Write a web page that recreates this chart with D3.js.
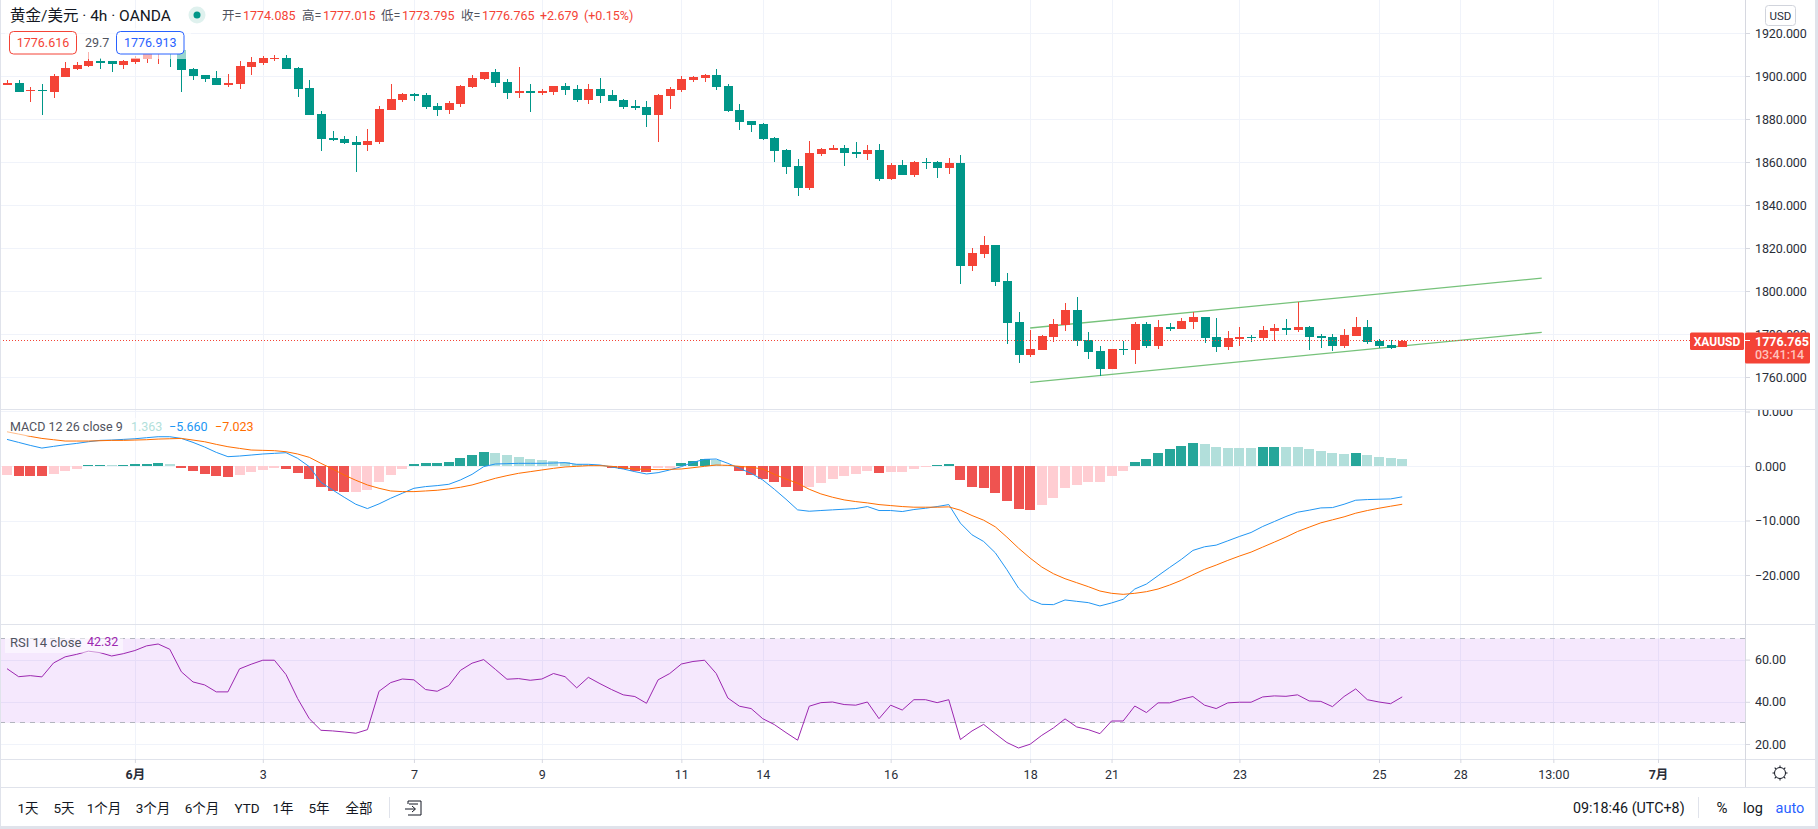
<!DOCTYPE html>
<html>
<head>
<meta charset="utf-8">
<script src="https://cdn.jsdelivr.net/npm/d3@7"></script>
<style>
  html, body { margin: 0; padding: 0; background: #fff; overflow: hidden; }
  svg { display: block; }
  text { font-family: Roboto, "Noto Sans CJK SC", sans-serif; font-size: 12.5px; fill: #131722; }
  .domain { display: none; }
  .grid line { stroke: #f0f3fa; }
  .axis line { stroke: #d6d8e0; }
</style>
</head>
<body>
<svg width="1818" height="829"></svg>
<script>
// candles, one entry per 4h bar
const opens = [1896.3,1896.9,1892.9,1893.6,1892.7,1899.7,1903.4,1904.8,1907.1,1906.8,1905.3,1906.7,1908.1,1910.7,1913.0,1912.2,1903.4,1900.6,1899.2,1896.0,1896.4,1904.3,1906.2,1908.1,1908.5,1903.9,1894.6,1882.5,1871.3,1870.9,1869.5,1868.1,1869.5,1884.3,1889.0,1891.8,1891.3,1886.2,1884.3,1887.1,1894.9,1898.6,1902.0,1897.4,1892.2,1893.2,1892.2,1892.7,1895.5,1894.1,1889.0,1894.1,1891.3,1889.0,1886.2,1885.7,1882.0,1890.9,1893.6,1898.3,1899.2,1900.6,1895.5,1884.3,1879.2,1877.8,1871.3,1865.7,1858.3,1848.1,1863.9,1865.7,1866.7,1864.8,1863.9,1865.7,1852.3,1858.8,1854.1,1860.2,1860.2,1857.4,1859.7,1811.8,1817.4,1821.6,1804.8,1785.8,1770.4,1772.7,1778.8,1784.4,1791.3,1777.4,1772.3,1763.9,1773.2,1772.7,1784.8,1774.6,1783.4,1782.5,1785.8,1788.1,1778.8,1774.1,1777.8,1778.8,1778.3,1781.6,1782.9,1782.0,1783.4,1779.2,1778.8,1774.6,1779.2,1783.4,1776.9,1775.0,1774.085];
const closes = [1896.7,1892.7,1893.6,1892.9,1900.2,1903.9,1905.3,1907.1,1906.2,1905.4,1907.1,1908.4,1910.7,1913.0,1911.0,1902.9,1900.2,1898.8,1896.0,1896.9,1904.8,1906.7,1908.5,1908.5,1903.4,1894.1,1882.0,1870.9,1870.4,1869.0,1868.1,1869.9,1884.8,1889.5,1891.8,1890.9,1885.7,1884.3,1887.6,1895.5,1899.2,1902.0,1896.9,1892.2,1893.2,1892.2,1893.2,1895.5,1893.6,1889.0,1894.1,1890.9,1888.5,1885.7,1885.3,1882.0,1891.3,1894.1,1898.8,1899.7,1900.6,1895.0,1883.9,1878.8,1877.4,1870.9,1865.3,1857.8,1848.1,1864.3,1866.2,1866.7,1864.3,1863.9,1865.7,1852.3,1858.8,1854.1,1860.2,1859.7,1857.4,1859.7,1811.8,1817.9,1821.6,1804.4,1785.3,1770.4,1773.2,1779.3,1784.8,1791.3,1776.9,1771.8,1763.9,1773.2,1772.7,1784.8,1774.6,1783.4,1782.5,1786.2,1788.1,1778.3,1774.1,1778.3,1778.8,1778.3,1782.0,1782.9,1782.0,1783.4,1778.8,1778.3,1774.6,1779.7,1783.4,1776.4,1774.6,1773.7,1776.765];
const highs = [1898.3,1898.3,1894.9,1896.4,1901.1,1906.4,1906.4,1911.0,1908.4,1907.1,1907.6,1909.5,1912.2,1914.6,1914.6,1913.8,1903.9,1900.6,1902.5,1901.1,1907.1,1909.0,1909.5,1909.9,1909.9,1904.3,1898.3,1883.9,1874.6,1872.2,1872.2,1875.5,1886.2,1896.4,1892.2,1892.2,1892.2,1887.6,1888.5,1896.0,1900.6,1902.0,1903.4,1898.8,1904.3,1896.4,1894.1,1895.5,1896.9,1896.0,1896.4,1899.2,1893.6,1889.5,1889.0,1888.5,1891.8,1895.0,1900.2,1900.2,1901.1,1903.4,1896.4,1887.1,1879.2,1878.3,1871.8,1866.2,1861.6,1869.9,1866.7,1868.1,1868.1,1869.5,1868.1,1868.5,1859.7,1861.1,1860.6,1862.0,1860.6,1862.0,1863.4,1820.2,1825.4,1821.6,1808.5,1790.4,1782.0,1779.7,1787.2,1794.6,1797.4,1781.1,1774.6,1773.2,1776.9,1785.8,1785.8,1786.7,1785.3,1787.6,1790.4,1788.1,1787.6,1781.6,1783.4,1779.7,1783.9,1784.8,1787.1,1795.0,1783.9,1780.2,1780.2,1782.5,1788.1,1786.7,1777.8,1777.4,1777.015];
const lows = [1895.8,1892.4,1887.8,1882.0,1889.9,1899.7,1902.6,1904.3,1903.4,1902.0,1903.4,1905.4,1906.2,1905.4,1904.3,1892.4,1898.3,1897.4,1896.0,1895.0,1894.1,1900.6,1905.3,1907.1,1903.4,1890.4,1882.0,1865.3,1869.9,1868.5,1855.5,1865.3,1868.5,1884.3,1888.1,1888.5,1884.8,1881.6,1882.5,1885.7,1894.6,1898.3,1895.0,1889.5,1889.9,1883.4,1891.3,1891.3,1891.3,1888.1,1887.1,1887.6,1888.5,1884.8,1884.3,1876.4,1869.5,1884.8,1892.7,1897.4,1897.4,1893.6,1883.4,1875.0,1874.1,1870.4,1860.2,1854.6,1844.4,1847.1,1863.0,1865.7,1858.3,1862.0,1861.1,1851.3,1851.8,1854.1,1853.2,1856.9,1852.7,1854.6,1803.4,1809.5,1815.5,1802.5,1775.5,1766.7,1769.5,1772.7,1776.5,1781.6,1774.6,1768.6,1760.6,1763.9,1770.4,1766.2,1773.7,1773.2,1781.6,1782.5,1782.5,1776.0,1771.8,1772.7,1774.6,1776.4,1777.4,1776.9,1779.7,1781.1,1772.7,1773.7,1772.3,1773.7,1779.2,1775.5,1773.7,1773.2,1773.795];

// MACD 12 26 close 9
const macdHist = [-1.65,-1.83,-1.85,-1.87,-1.46,-0.9,-0.55,0.1,0.2,0.18,0.25,0.4,0.42,0.55,0.4,-0.37,-0.9,-1.46,-1.83,-2.0,-1.65,-1.1,-0.73,-0.37,-0.55,-1.28,-2.4,-3.84,-4.57,-4.8,-4.76,-4.4,-2.93,-1.65,-0.55,0.37,0.55,0.57,0.73,1.46,2.0,2.56,2.38,2.0,1.65,1.28,1.1,0.9,0.73,0.37,0.2,0.1,-0.37,-0.55,-0.9,-1.1,-0.37,-0.37,0.55,0.9,1.28,1.1,0.15,-0.9,-1.65,-2.4,-2.93,-3.84,-4.57,-3.84,-3.1,-2.4,-1.83,-1.46,-0.9,-1.28,-1.1,-1.1,-0.55,-0.2,0.2,0.37,-2.56,-3.84,-4.0,-4.94,-6.4,-7.87,-8.05,-7.13,-5.85,-4.0,-3.48,-2.93,-2.93,-1.83,-0.9,0.73,1.28,2.38,3.1,3.66,4.2,4.0,3.48,3.3,3.3,3.3,3.48,3.5,3.48,3.45,3.1,2.74,2.38,2.2,2.38,2.0,1.65,1.46,1.363];
const macdLine = [4.88,4.33,3.78,3.29,3.6,3.9,4.15,4.45,4.7,4.76,4.88,5.0,5.19,5.37,5.37,5.06,4.33,3.48,2.5,1.71,1.83,2.01,2.2,2.32,2.44,1.4,-0.12,-2.99,-4.39,-5.73,-7.02,-7.81,-6.95,-5.92,-5.0,-4.09,-3.78,-3.6,-3.36,-2.56,-1.53,-0.12,0.37,0.43,0.49,0.49,0.49,0.55,0.61,0.31,0.31,0.18,-0.18,-0.55,-1.04,-1.46,-1.22,-0.73,-0.12,0.67,1.22,1.28,0.49,-0.43,-1.34,-2.56,-4.27,-6.1,-8.05,-8.3,-8.17,-8.05,-7.93,-7.81,-7.44,-8.17,-8.17,-8.36,-7.99,-7.75,-7.44,-7.08,-10.49,-12.63,-13.85,-15.92,-19.03,-22.39,-24.52,-25.38,-25.44,-24.58,-24.83,-25.07,-25.68,-25.13,-24.46,-22.57,-21.66,-20.13,-18.61,-17.14,-15.49,-14.82,-14.52,-13.73,-12.93,-12.2,-11.1,-10.19,-9.27,-8.48,-8.11,-7.69,-7.63,-7.02,-6.28,-6.16,-6.1,-6.04,-5.66];
const signalLine = [6.28,5.86,5.43,5.06,4.82,4.58,4.58,4.58,4.64,4.7,4.7,4.76,4.82,4.94,5.0,5.06,4.76,4.45,3.97,3.54,3.23,2.93,2.87,2.81,2.62,2.2,1.59,0.49,-0.55,-1.65,-2.62,-3.48,-4.09,-4.58,-4.7,-4.7,-4.58,-4.45,-4.21,-3.9,-3.48,-2.87,-2.26,-1.77,-1.34,-1.04,-0.73,-0.43,-0.18,-0.06,0.06,0.06,-0.06,-0.31,-0.55,-0.61,-0.67,-0.61,-0.55,-0.31,-0.06,0.18,0.12,-0.06,-0.24,-0.55,-1.53,-2.38,-3.17,-4.27,-5.12,-5.73,-6.22,-6.53,-6.77,-7.08,-7.26,-7.44,-7.56,-7.56,-7.56,-7.5,-8.11,-9.09,-9.94,-11.16,-13.05,-15.07,-16.9,-18.54,-19.76,-20.68,-21.41,-22.14,-22.94,-23.36,-23.55,-23.36,-23.06,-22.57,-21.84,-20.98,-19.95,-18.97,-18.18,-17.32,-16.53,-15.8,-14.88,-13.97,-13.05,-12.02,-11.22,-10.43,-9.88,-9.33,-8.66,-8.17,-7.75,-7.38,-7.023];

// RSI 14 close
const rsiLine = [55.7,51.9,52.4,51.8,58.4,61.3,62.5,64.0,63.3,61.7,62.8,64.3,66.5,67.4,64.9,54.2,49.4,48.0,44.7,44.7,55.6,57.8,59.7,59.7,52.9,41.5,32.0,26.5,26.2,25.7,25.1,26.8,45.0,49.1,50.8,50.4,45.8,45.0,47.7,54.9,58.3,60.0,55.4,50.7,51.0,50.2,50.8,53.4,51.9,46.6,51.6,48.6,45.8,43.3,42.5,39.3,50.4,53.4,57.9,59.1,59.7,53.4,41.8,37.9,36.8,32.0,29.2,25.4,21.8,37.9,39.6,39.9,38.7,38.4,39.9,32.0,38.4,36.1,41.0,41.0,39.6,41.0,22.1,26.2,29.3,24.9,20.7,18.1,19.9,24.1,27.6,31.9,28.1,26.8,24.9,30.9,30.9,38.0,34.9,39.5,39.5,41.2,42.5,38.4,36.8,39.5,39.8,39.8,42.3,42.8,42.6,43.3,40.4,40.2,37.7,42.5,46.1,41.0,39.9,39.1,42.32];

// the two channel lines drawn by hand on the chart: [bar, price]
const channelUpper = [[88, 1782.8], [132, 1806.0]];
const channelLower = [[88, 1757.5], [132, 1780.8]];

// axis ticks
const priceTicks = [1760, 1780, 1800, 1820, 1840, 1860, 1880, 1900, 1920];
const macdTicks = [-20, -10, 0, 10];
const rsiTicks = [20, 40, 60];
const rsiBands = [70, 30];
const timeTicks = [11, 22, 35, 46, 58, 65, 76, 88, 95, 106, 118, 125, 133, 142];
const timeLabels = ['6月', '3', '7', '9', '11', '14', '16', '18', '21', '23', '25', '28', '13:00', '7月'];
const lastPrice = 1776.765;

// bottom toolbar
const rangeButtons = ['1天', '5天', '1个月', '3个月', '6个月', 'YTD', '1年', '5年', '全部'];
const rangeCentres = [28, 64, 104, 153, 202, 247, 283, 319, 359];

(function () {
  const svg = d3.select('svg');
  const red = '#f44336';
  const teal = '#009688';
  const line = '#e0e3eb';
  const axisX = 1745;

  const bars = d3.range(opens.length);
  const x = d3.scaleLinear().domain([0, 142]).range([7, 1658]);
  const yPrice = d3.scaleLinear().domain([1760, 1920]).range([377, 33]);
  const yMacd = d3.scaleLinear().domain([-20, 0]).range([575, 466]);
  const yRsi = d3.scaleLinear().domain([20, 70]).range([744, 638.5]);
  // candle centre on a whole pixel, wick runs through the middle of it
  const xPx = i => Math.round(x(i));

  const label = function (txt, px, py, fill, anchor, size, weight) {
    return svg.append('text')
      .attr('x', px).attr('y', py)
      .attr('dy', '0.35em')
      .attr('text-anchor', anchor || 'start')
      .style('fill', fill || '#131722')
      .style('font-size', (size || 12.5) + 'px')
      .style('font-weight', weight || 400)
      .text(txt);
  };

  const hline = (y, x1, x2, color) => svg.append('line')
    .attr('x1', x1).attr('x2', x2).attr('y1', y).attr('y2', y)
    .attr('stroke', color || line).attr('shape-rendering', 'crispEdges');

  // grids
  const grid = svg.append('g').attr('class', 'grid').attr('shape-rendering', 'crispEdges');
  grid.append('g').attr('transform', `translate(0,759)`)
    .call(d3.axisBottom(x).tickValues(timeTicks).tickSize(-759).tickFormat(''));
  const gridPane = (scale, ticks) => grid.append('g').attr('transform', `translate(${axisX},0)`)
    .call(d3.axisRight(scale).tickValues(ticks).tickSize(-axisX).tickFormat(''));
  gridPane(yPrice, priceTicks);
  gridPane(yMacd, [-20, -10, 0]);
  gridPane(yRsi, rsiTicks);

  // RSI band goes over the grid so the lines still show through it
  svg.append('rect')
    .attr('x', 0).attr('width', axisX)
    .attr('y', yRsi(70)).attr('height', yRsi(30) - yRsi(70))
    .attr('fill', 'rgba(145,5,235,0.09)');
  svg.selectAll('.rsi-band').data(rsiBands).enter().append('line')
    .attr('class', 'rsi-band')
    .attr('x1', 0).attr('x2', axisX)
    .attr('y1', d => yRsi(d)).attr('y2', d => yRsi(d))
    .attr('stroke', '#b2b5be').attr('stroke-dasharray', '5 5')
    .attr('shape-rendering', 'crispEdges');

  // channel lines sit under the candles
  const channel = d3.line().x(d => x(d[0])).y(d => yPrice(d[1]));
  svg.selectAll('.channel').data([channelUpper, channelLower]).enter().append('path')
    .attr('class', 'channel')
    .attr('d', channel)
    .attr('fill', 'none')
    .attr('stroke', '#76c27a')
    .attr('stroke-width', 1.3);

  // candles
  const candleColor = i => (closes[i] >= opens[i] ? red : teal);
  svg.append('g').attr('shape-rendering', 'crispEdges')
    .selectAll('line').data(bars).enter().append('line')
    .attr('x1', d => xPx(d) + 0.5).attr('x2', d => xPx(d) + 0.5)
    .attr('y1', d => yPrice(highs[d])).attr('y2', d => yPrice(lows[d]))
    .attr('stroke', candleColor)
    .attr('stroke-width', 1);
  svg.append('g').attr('shape-rendering', 'crispEdges')
    .selectAll('rect').data(bars).enter().append('rect')
    .attr('x', d => xPx(d) - 4)
    .attr('width', 9)
    .attr('y', d => yPrice(Math.max(opens[d], closes[d])))
    .attr('height', d => Math.max(1.5, Math.abs(yPrice(opens[d]) - yPrice(closes[d]))))
    .attr('fill', candleColor);

  // last price line
  hline(yPrice(lastPrice), 0, 1690, red)
    .attr('stroke-dasharray', '1 2');

  // MACD histogram, dark while the bar grows away from zero
  const histColor = function (i) {
    const v = macdHist[i];
    const prev = i > 0 ? macdHist[i - 1] : v;
    if (v >= 0) return v > prev ? '#26a69a' : '#b2dfdb';
    return v < prev ? '#ef5350' : '#ffcdd2';
  };
  svg.append('g').attr('shape-rendering', 'crispEdges')
    .selectAll('rect').data(bars).enter().append('rect')
    .attr('x', d => xPx(d) - 5)
    .attr('width', 10)
    .attr('y', d => Math.min(yMacd(0), yMacd(macdHist[d])))
    .attr('height', d => Math.abs(yMacd(macdHist[d]) - yMacd(0)))
    .attr('fill', histColor);

  const macdPath = d3.line().x((d, i) => x(i)).y(d => yMacd(d));
  svg.append('path').attr('d', macdPath(macdLine))
    .attr('fill', 'none').attr('stroke', '#2196f3').attr('stroke-width', 1);
  svg.append('path').attr('d', macdPath(signalLine))
    .attr('fill', 'none').attr('stroke', '#ff6d00').attr('stroke-width', 1);

  // RSI
  const rsiPath = d3.line().x((d, i) => x(i)).y(d => yRsi(d));
  svg.append('path').attr('d', rsiPath(rsiLine))
    .attr('fill', 'none').attr('stroke', '#9c27b0').attr('stroke-width', 1);

  // pane and frame separators
  hline(409.5, 0, 1815);
  hline(411.5, 0, axisX, '#f0f3fa');
  hline(624.5, 0, 1815);
  hline(759.5, 0, 1815);
  hline(787.5, 0, 1815);
  svg.append('line').attr('x1', axisX + 0.5).attr('x2', axisX + 0.5).attr('y1', 0).attr('y2', 787)
    .attr('stroke', '#d6d8e0').attr('shape-rendering', 'crispEdges');

  // price axes
  const fmt3 = d => d3.format('.3f')(d).replace('-', '−');
  const axisG = svg.append('g').attr('class', 'axis');
  const rightAxis = (parent, scale, ticks, format) => parent.append('g')
    .attr('transform', `translate(${axisX},0)`)
    .call(d3.axisRight(scale).tickValues(ticks).tickSize(5).tickPadding(5).tickFormat(format));
  rightAxis(axisG, yPrice, priceTicks, fmt3);
  // top of the MACD axis is cut by the pane edge, clip on an untransformed parent
  svg.append('clipPath').attr('id', 'macd-clip').append('rect')
    .attr('x', axisX).attr('y', 410).attr('width', 80).attr('height', 214);
  rightAxis(axisG.append('g').attr('clip-path', 'url(#macd-clip)'), yMacd, macdTicks, fmt3);
  rightAxis(axisG, yRsi, rsiTicks, d => d3.format('.2f')(d));
  axisG.selectAll('text')
    .style('font-size', '12.5px').style('fill', '#2a2e39').style('letter-spacing', '-0.1px');

  // time axis
  const timeAxis = svg.append('g').attr('class', 'axis').attr('transform', 'translate(0,759)')
    .call(d3.axisBottom(x).tickValues(timeTicks).tickSize(4).tickPadding(7)
      .tickFormat((d, i) => timeLabels[i]));
  timeAxis.selectAll('text')
    .style('font-size', '12.5px')
    .style('fill', '#2a2e39')
    .style('font-weight', (d, i) => (timeLabels[i].includes('月') ? 700 : 400));

  // last price tags
  svg.append('rect').attr('x', 1690).attr('y', 332.5).attr('width', 54).attr('height', 17.5)
    .attr('rx', 1.5).attr('fill', red);
  label('XAUUSD', 1717, 341.5, '#fff', 'middle', 12, 700);
  svg.append('rect').attr('x', axisX).attr('y', 332.5).attr('width', 65).attr('height', 31)
    .attr('rx', 1.5).attr('fill', red);
  hline(yPrice(lastPrice), axisX, axisX + 5, '#fff');
  label('1776.765', 1755, 341.5, '#fff', 'start', 12.5, 700);
  label('03:41:14', 1755, 355, '#ffc2bc', 'start', 12.5, 500);

  // USD button
  svg.append('rect').attr('x', 1765.5).attr('y', 5.5).attr('width', 30).attr('height', 20)
    .attr('rx', 3).attr('fill', '#fff').attr('stroke', '#d1d4dc');
  label('USD', 1780.5, 15.5, '#2a2e39', 'middle', 11.5);

  // legend, white wash over the marks below it
  svg.append('rect').attr('x', 5).attr('y', 28).attr('width', 186).attr('height', 31)
    .attr('fill', '#fff').attr('opacity', 0.6);
  label('黄金/美元 · 4h · OANDA', 10, 15.5, '#131722', 'start', 15.5);
  svg.append('circle').attr('cx', 197).attr('cy', 15).attr('r', 8.5).attr('fill', '#dff1ee');
  svg.append('circle').attr('cx', 197).attr('cy', 15).attr('r', 3.5).attr('fill', teal);
  const ohlc = [
    ['开=', 222, '#50535e'], ['1774.085', 243, red],
    ['高=', 302, '#50535e'], ['1777.015', 323, red],
    ['低=', 381, '#50535e'], ['1773.795', 402, red],
    ['收=', 461, '#50535e'], ['1776.765', 482, red],
    ['+2.679', 540, red], ['(+0.15%)', 584, red]
  ];
  ohlc.forEach(d => label(d[0], d[1], 16, d[2], 'start', 12.5));

  const priceBox = function (txt, bx, bw, color) {
    svg.append('rect').attr('x', bx).attr('y', 31.5).attr('width', bw).attr('height', 22.5)
      .attr('rx', 4).attr('fill', '#fff').attr('stroke', color);
    label(txt, bx + bw / 2, 43, color, 'middle', 12.5);
  };
  priceBox('1776.616', 9.5, 67, red);
  label('29.7', 85, 43, '#50535e', 'start', 12.5);
  priceBox('1776.913', 116.5, 67.5, '#2962ff');

  svg.append('rect').attr('x', 5).attr('y', 418).attr('width', 250).attr('height', 18)
    .attr('fill', '#fff').attr('opacity', 0.55);
  label('MACD 12 26 close 9', 10, 427, '#50535e', 'start', 12.5);
  label('1.363', 131, 427, '#b2dfdb', 'start', 12.5);
  label('−5.660', 169, 427, '#2196f3', 'start', 12.5);
  label('−7.023', 215, 427, '#ff6d00', 'start', 12.5);

  svg.append('rect').attr('x', 5).attr('y', 636).attr('width', 118).attr('height', 17)
    .attr('fill', '#fff').attr('opacity', 0.5);
  label('RSI 14 close', 10, 642, '#50535e', 'start', 13);
  label('42.32', 87, 642, '#9c27b0', 'start', 12.5);

  // gear
  const gear = svg.append('g').attr('transform', 'translate(1780,773)');
  gear.append('circle').attr('r', 5.5).attr('fill', 'none').attr('stroke', '#131722');
  gear.selectAll('line').data(d3.range(0, 360, 45)).enter().append('line')
    .attr('y1', -5.5).attr('y2', -7.5)
    .attr('stroke', '#131722')
    .attr('transform', d => `rotate(${d})`);

  // bottom toolbar
  rangeButtons.forEach((d, i) => label(d, rangeCentres[i], 808, '#131722', 'middle', 13.5));
  svg.append('line').attr('x1', 389.5).attr('x2', 389.5).attr('y1', 797).attr('y2', 818)
    .attr('stroke', line);
  svg.append('path')
    .attr('d', 'M408 804V801H421V815H408M409 804H418M405 809H415M412 806L415.5 809L412 812')
    .attr('fill', 'none').attr('stroke', '#131722');
  label('09:18:46 (UTC+8)', 1573, 808, '#131722', 'start', 14.3);
  svg.append('line').attr('x1', 1698.5).attr('x2', 1698.5).attr('y1', 797).attr('y2', 818)
    .attr('stroke', line);
  label('%', 1722, 808, '#131722', 'middle', 15);
  label('log', 1753, 808, '#131722', 'middle', 14.5);
  label('auto', 1790, 808, '#2962ff', 'middle', 14.5);

  // outer frame
  svg.append('rect').attr('x', 0).attr('y', 0).attr('width', 1).attr('height', 829).attr('fill', '#e0e3eb');
  svg.append('rect').attr('x', 1815).attr('y', 0).attr('width', 3).attr('height', 829).attr('fill', '#e0e3eb');
  svg.append('rect').attr('x', 0).attr('y', 826).attr('width', 1818).attr('height', 3).attr('fill', '#e0e3eb');
})();
</script>
</body>
</html>
